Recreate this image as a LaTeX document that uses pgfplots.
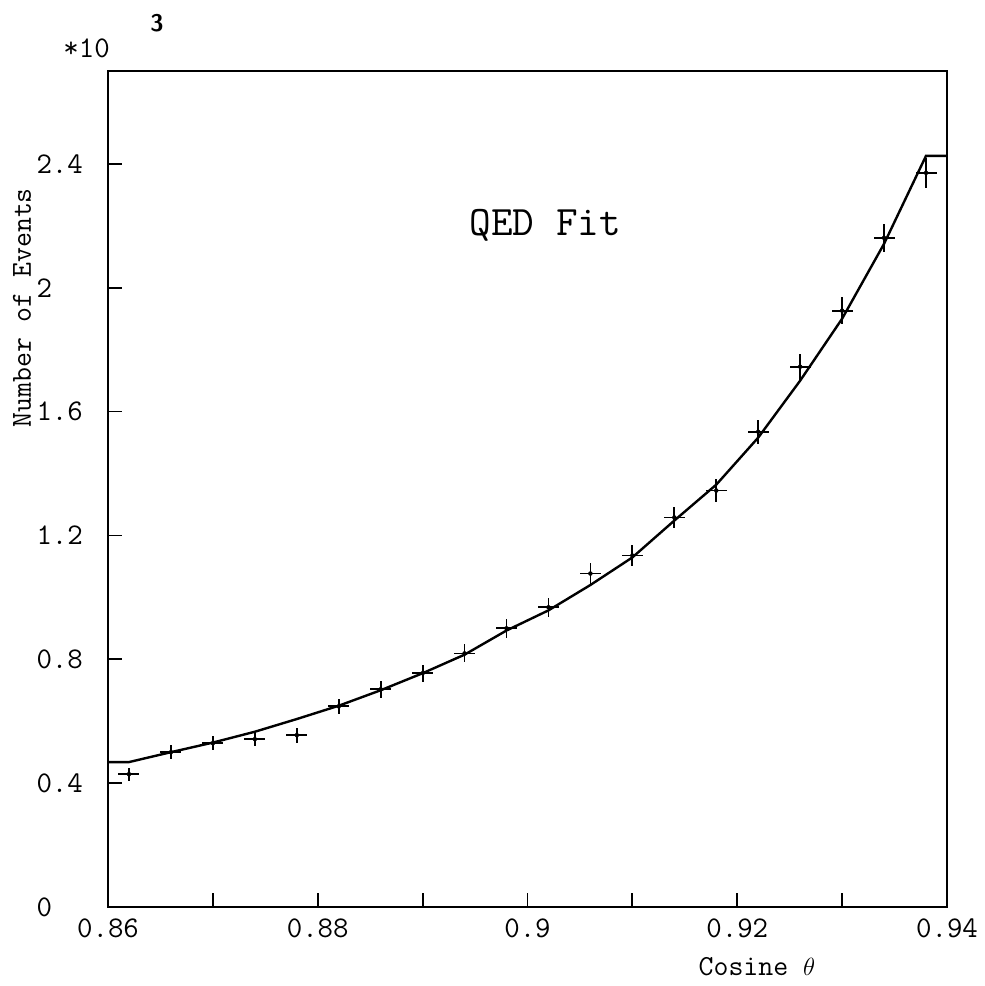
\documentclass[border=0pt]{standalone}
\usepackage{pgfplots}
\pgfplotsset{compat=1.18}
\begin{document}
\begin{tikzpicture}
\begin{axis}[
  scale only axis,
  width=839pt, height=836pt,
  xmin=0.86, xmax=0.94, ymin=0, ymax=2.7,
  axis line style={line width=2pt},
  xtick={0.86,0.88,0.90,0.92,0.94},
  minor xtick={0.87,0.89,0.91,0.93},
  ytick={0,0.4,0.8,1.2,1.6,2.0,2.4},
  tick pos=left,
  tick align=inside,
  major tick length=14pt, minor tick length=14pt,
  tick style={line width=1.8pt, black},
  /pgf/number format/assume math mode=true,
  ticklabel style={font=\fontsize{30}{34}\selectfont\ttfamily},
  xticklabel style={yshift=-8pt},
  yticklabel style={anchor=west, xshift=-75pt},
  xlabel={Cosine $\theta$},
  ylabel={Number of Events},
  label style={font=\fontsize{29}{33}\selectfont\ttfamily},
  xlabel style={at={([yshift=-60pt]rel axis cs:0.7735,0)}, anchor=center},
  ylabel style={at={([xshift=-86pt]rel axis cs:0,0.717)}, anchor=center},
  clip=false,
]
\addplot[black, line width=2.4pt] coordinates {
(0.860,0.468) (0.862,0.468) (0.866,0.500) (0.870,0.531) (0.874,0.566)
(0.878,0.607) (0.882,0.650) (0.886,0.700) (0.890,0.755) (0.894,0.815)
(0.898,0.893) (0.902,0.958) (0.906,1.040) (0.910,1.129) (0.914,1.248)
(0.918,1.364) (0.922,1.516) (0.926,1.700) (0.930,1.900) (0.934,2.142)
(0.938,2.426) (0.940,2.426)};
\addplot[black, only marks, mark=none,
  error bars/.cd, x dir=both, x explicit, y dir=both, y explicit,
  error mark=none, error bar style={line width=1.8pt, black}]
  table[x=x, y=y, x error=ex, y error=ey] {
x y ex ey
0.862 0.429 0.001 0.021
0.866 0.500 0.001 0.022
0.870 0.529 0.001 0.023
0.874 0.542 0.001 0.023
0.878 0.555 0.001 0.024
0.882 0.648 0.001 0.025
0.886 0.703 0.001 0.027
0.890 0.755 0.001 0.027
0.894 0.819 0.001 0.029
0.898 0.900 0.001 0.030
0.902 0.968 0.001 0.031
0.906 1.077 0.001 0.033
0.910 1.135 0.001 0.034
0.914 1.258 0.001 0.035
0.918 1.345 0.001 0.037
0.922 1.535 0.001 0.039
0.926 1.745 0.001 0.042
0.930 1.926 0.001 0.044
0.934 2.161 0.001 0.046
0.938 2.371 0.001 0.049
};
\node[font=\fontsize{42}{46}\selectfont\ttfamily] at (axis cs:0.9017,2.2) {QED Fit};
\node[anchor=east, inner sep=0pt, font=\fontsize{30}{34}\selectfont\ttfamily] at ([shift={(2pt,23pt)}]rel axis cs:0,1) {*10};
\node[anchor=center, inner sep=0pt, font=\fontsize{24}{28}\selectfont\sffamily\bfseries] at ([shift={(49pt,48pt)}]rel axis cs:0,1) {3};
\coordinate (bl) at (rel axis cs:0,0);
\coordinate (tr) at (rel axis cs:1,1);
\end{axis}
\pgfresetboundingbox
\path ([shift={(-108pt,-79pt)}]bl) rectangle ([shift={(38pt,71pt)}]tr);
\end{tikzpicture}
\end{document}
